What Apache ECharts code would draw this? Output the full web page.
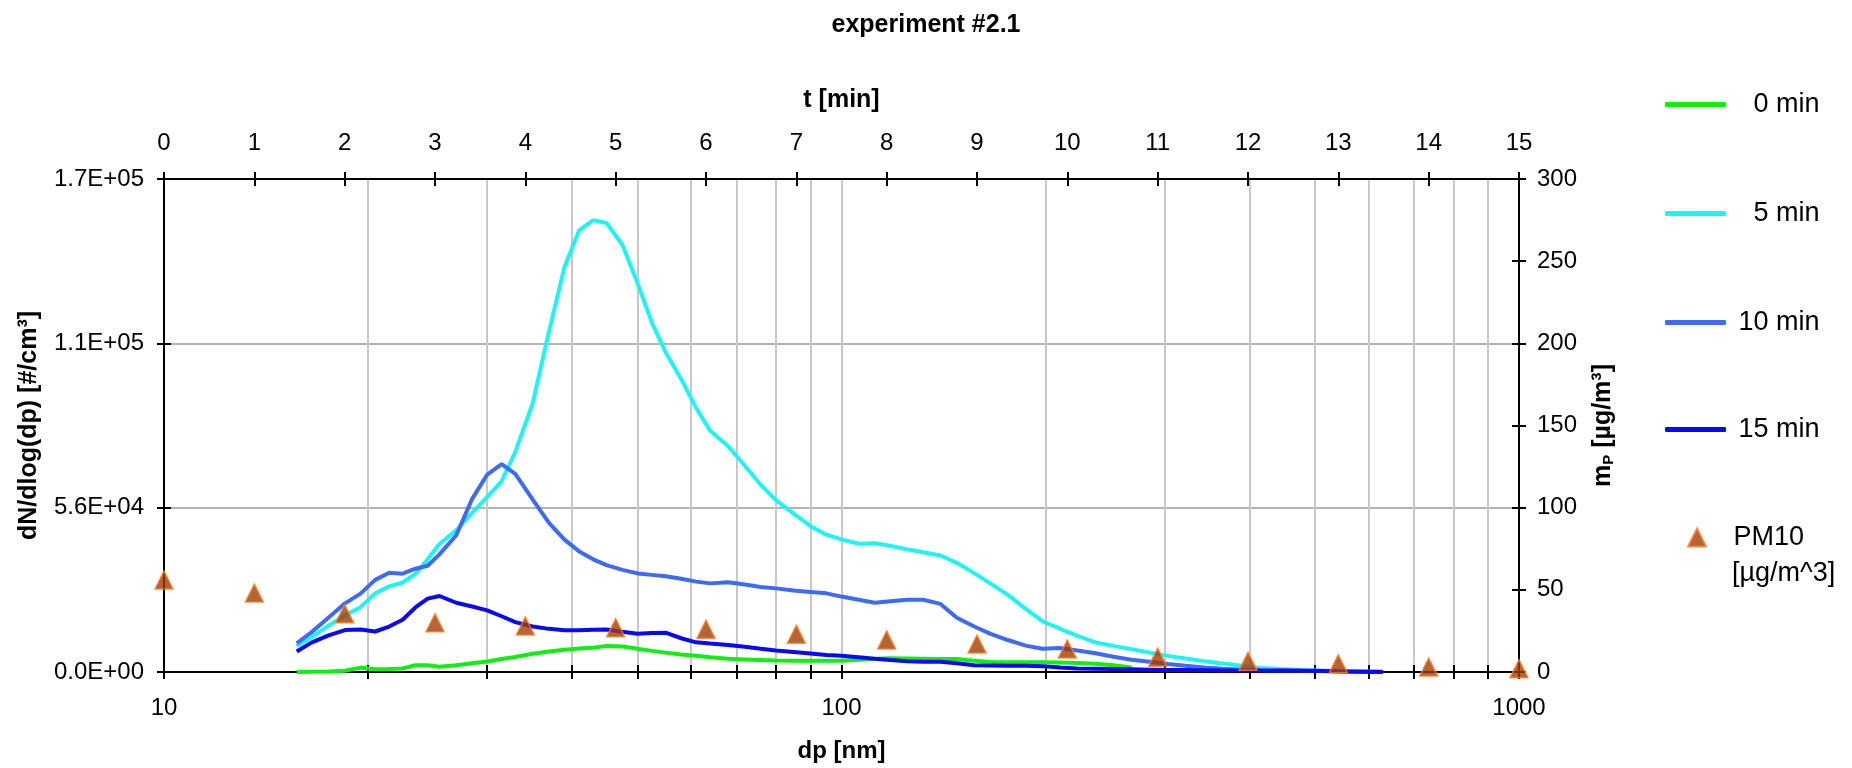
<!DOCTYPE html>
<html>
<head>
<meta charset="utf-8">
<script src="https://cdn.jsdelivr.net/npm/echarts@6.0.0/dist/echarts.min.js"></script>
<style>
  html, body { margin: 0; padding: 0; background: #fff; }
  #chart { width: 1852px; height: 768px; }
</style>
</head>
<body>
<div id="chart"></div>
<script>
// particle diameter bins [nm]
const dp = [15.7, 16.5, 17.5, 18.5, 19.5, 20.5, 21.5, 22.5, 23.5, 24.5, 25.5, 27, 28.5, 30, 31.5, 33, 35, 37, 39, 41,
  43, 45, 47.5, 50, 52.5, 55, 58, 61, 64, 68, 72, 76, 80, 85, 90, 95, 100, 106, 112, 118,
  125, 132, 140, 148, 157, 166, 176, 187, 198, 210, 223, 237, 252, 268, 285, 303, 322, 343, 365, 390,
  415, 445, 475, 510, 545, 585, 630];

// dN/dlog(dp) [#/cm3] for each time
const min0 = [0, 100, 200, 400, 1500, 900, 1000, 1200, 2300, 2300, 1800, 2300, 3000, 3600, 4400, 5100, 6200, 7000, 7600, 8000,
  8300, 8900, 8700, 7900, 7200, 6600, 6000, 5500, 5000, 4500, 4300, 4100, 3900, 3800, 3800, 3800, 3800, 4200, 4500, 4700,
  4600, 4500, 4400, 4400, 3800, 3400, 3300, 3300, 3300, 3200, 3100, 2800, 2300, 1500, null, null, null, null, null, null,
  null, null, null, null, null, null, null];
const min5 = [8900, 11800, 15800, 19300, 22100, 26800, 29200, 30500, 33400, 38400, 43600, 48300, 54200, 59700, 65000, 75000, 91500, 116000, 138000, 150500,
  154000, 153000, 145500, 132500, 119000, 109000, 99800, 90000, 82200, 77000, 70300, 63800, 58600, 54000, 49700, 46800, 45200, 43700, 43900, 43000,
  41800, 40800, 39700, 37200, 33700, 30100, 26300, 21500, 17300, 14800, 12300, 10100, 8900, 7800, 6600, 5500, 4600, 3700, 2900, 2100,
  1400, 1000, 700, 400, 200, 100, 0];
const min10 = [9800, 13500, 18600, 23400, 26700, 31400, 33800, 33500, 35200, 36200, 40100, 46600, 59000, 67300, 70800, 67500, 58800, 50800, 45100, 41100,
  38400, 36400, 34800, 33600, 33100, 32600, 31800, 30800, 30200, 30600, 29800, 29000, 28500, 27800, 27300, 26800, 25700, 24600, 23600, 24100,
  24600, 24600, 23200, 18500, 15500, 13000, 10900, 9000, 7900, 8200, 7300, 6400, 5200, 4200, 3500, 2700, 2100, 1500, 1100, 800,
  700, 600, 500, 400, 300, 200, 100];
const min15 = [7000, 10000, 12500, 14300, 14500, 13800, 15500, 17800, 22000, 25000, 25900, 23600, 22300, 21000, 19000, 17000, 15500, 14700, 14200, 14200,
  14400, 14500, 13700, 13000, 13300, 13400, 11500, 10100, 9700, 9200, 8600, 7900, 7300, 6800, 6300, 5800, 5500, 5000, 4500, 4100,
  3700, 3500, 3500, 3000, 2300, 2200, 2100, 2100, 2000, 1500, 1200, 1100, 1000, 900, 800, 700, 700, 600, 500, 500,
  400, 400, 400, 300, 200, 100, 0];

// PM10 mass over time
const tMin = [0, 1, 2, 3, 4, 5, 6, 7, 8, 9, 10, 11, 12, 13, 14, 15];
const pm10 = [56, 48, 35.5, 30, 28, 27, 26, 23, 19.5, 17, 14, 9, 6.5, 5, 3, 2];

// log axis ticks / labels
const dpTicks = [10, 20, 30, 40, 50, 60, 70, 80, 90, 100, 200, 300, 400, 500, 600, 700, 800, 900, 1000];
const dpLabels = [10, 100, 1000];

const FONT = '"Liberation Sans", Arial, sans-serif';

function pairs(vals) {
  const out = [];
  dp.forEach((d, i) => { if (vals[i] != null) out.push([d, vals[i]]); });
  return out;
}

function sci(v) {
  if (v === 0) return '0.0E+00';
  const e = Math.floor(Math.log10(v));
  const m = v / Math.pow(10, e);
  return m.toFixed(1) + 'E+' + String(e).padStart(2, '0');
}

const chart = echarts.init(document.getElementById('chart'));

const tickStyle = { color: '#000', width: 2 };
// onZero off, otherwise the right / top axes jump onto the other axis' zero
const lineAxis = { show: true, onZero: false, lineStyle: { color: '#000', width: 2 } };
const noLine = { show: false, onZero: false };
const boldName = { fontFamily: FONT, fontSize: 25, fontWeight: 'bold', color: '#000' };

// copy of an axis that only draws the inner half of the cross-shaped ticks
function innerTicks(ax) {
  return Object.assign({}, ax, {
    name: '', axisLine: noLine, axisLabel: { show: false }, splitLine: { show: false },
    axisTick: Object.assign({}, ax.axisTick, { inside: true })
  });
}

const xLog = {
  type: 'log', logBase: 10, min: 10, max: 1000, position: 'bottom',
  name: 'dp [nm]', nameLocation: 'middle', nameGap: 67,
  nameTextStyle: Object.assign({}, boldName, { fontSize: 24 }),
  axisLine: lineAxis,
  axisTick: { show: true, inside: false, length: 7, customValues: dpTicks, lineStyle: tickStyle },
  axisLabel: { customValues: dpLabels, margin: 24, fontFamily: FONT, fontSize: 24, color: '#000',
    formatter: v => String(Math.round(v)) },
  splitLine: { show: true, lineStyle: { color: '#c8c8c8', width: 2 } },
  minorTick: { show: false }
};
const xTime = {
  type: 'value', min: 0, max: 15, interval: 1, position: 'top',
  name: 't [min]', nameLocation: 'middle', nameGap: 66,
  nameTextStyle: boldName,
  axisLine: lineAxis,
  axisTick: { show: true, inside: false, length: 7, lineStyle: tickStyle },
  axisLabel: { margin: 24, fontFamily: FONT, fontSize: 24, color: '#000' },
  splitLine: { show: false }
};
const yCount = {
  type: 'value', min: 0, max: 168000, interval: 56000, position: 'left',
  name: 'dN/dlog(dp) [#/cm³]', nameLocation: 'middle', nameRotate: 90, nameGap: 122,
  nameTextStyle: boldName,
  axisLine: lineAxis,
  axisTick: { show: true, inside: false, length: 7, lineStyle: tickStyle },
  axisLabel: { margin: 20, fontFamily: FONT, fontSize: 24, color: '#000', formatter: sci },
  splitLine: { show: true, lineStyle: { color: '#b4b4b4', width: 2 } }
};
const yMass = {
  type: 'value', min: 0, max: 300, interval: 50, position: 'right',
  name: 'm{sub|P} [µg/m³]', nameLocation: 'middle', nameRotate: 90, nameGap: 72,
  nameTextStyle: Object.assign({}, boldName, {
    rich: { sub: { fontFamily: FONT, fontSize: 15, fontWeight: 'bold', color: '#000', verticalAlign: 'bottom' } }
  }),
  axisLine: lineAxis,
  axisTick: { show: true, inside: false, length: 7, lineStyle: tickStyle },
  axisLabel: { margin: 18, fontFamily: FONT, fontSize: 24, color: '#000' },
  splitLine: { show: false }
};

const option = {
  backgroundColor: '#fff',
  animation: false,
  title: {
    text: 'experiment #2.1',
    left: 'center',
    top: 8,
    textStyle: boldName
  },
  grid: { left: 164, right: 333, top: 179, bottom: 95 },
  legend: [
    { name: '0 min', top: 91, label: '   0 min' },
    { name: '5 min', top: 200, label: '   5 min' },
    { name: '10 min', top: 309, label: ' 10 min' },
    { name: '15 min', top: 416, label: ' 15 min' }
  ].map(l => ({
    data: [{ name: l.name, icon: 'roundRect' }],
    left: 1665,
    top: l.top,
    padding: 0,
    itemWidth: 61,
    itemHeight: 5,
    selectedMode: false,
    formatter: () => l.label,
    textStyle: { fontFamily: FONT, fontSize: 27, color: '#000' }
  })).concat([{
    data: ['PM10'],
    left: 1687,
    top: 524,
    padding: 0,
    itemWidth: 18,
    itemHeight: 18,
    selectedMode: false,
    formatter: () => '   PM10',
    textStyle: { fontFamily: FONT, fontSize: 27, color: '#000' }
  }]),
  graphic: [{
    type: 'text',
    left: 1732,
    top: 560,
    style: { text: '[µg/m^3]', font: '27px ' + FONT, fill: '#000' }
  }],
  xAxis: [xLog, xTime, innerTicks(xLog), innerTicks(xTime)],
  yAxis: [yCount, yMass, innerTicks(yCount), innerTicks(yMass)],
  series: [
    { name: '0 min', type: 'line', data: pairs(min0), color: '#11ee11' },
    { name: '5 min', type: 'line', data: pairs(min5), color: '#1ff4f4' },
    { name: '10 min', type: 'line', data: pairs(min10), color: '#3d6bf5' },
    { name: '15 min', type: 'line', data: pairs(min15), color: '#0a0af0' }
  ].map(s => Object.assign(s, {
    xAxisIndex: 0, yAxisIndex: 0, symbol: 'none', showSymbol: false,
    lineStyle: { width: 4, color: s.color }
  })).concat([{
    name: 'PM10', type: 'scatter', xAxisIndex: 1, yAxisIndex: 1,
    symbol: 'triangle', symbolSize: 18,
    itemStyle: { color: '#a13d05', borderColor: '#ff7a20', borderWidth: 1.5 },
    data: tMin.map((t, i) => [t, pm10[i]]),
    z: 5
  }])
};

chart.setOption(option);
</script>
</body>
</html>
